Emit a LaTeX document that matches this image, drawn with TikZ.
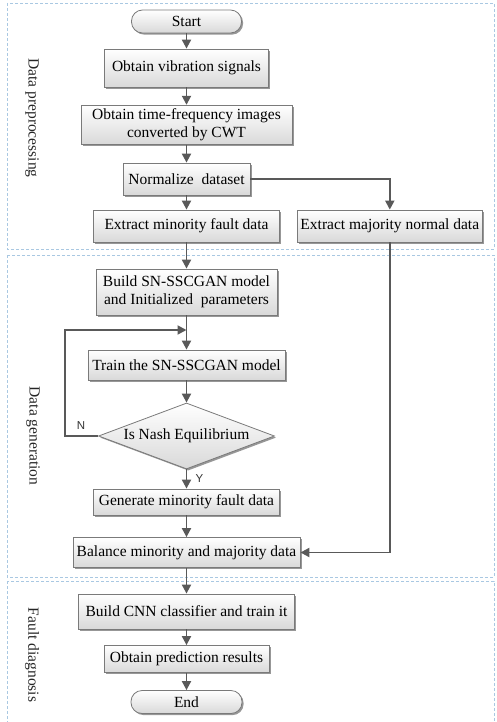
\documentclass[tikz,border=0pt]{standalone}
\usepackage{fontspec}
\setmainfont{Liberation Serif}
\newfontfamily\yesnofont{Liberation Sans}
\usetikzlibrary{arrows.meta,shadows,shapes.geometric}

\definecolor{linegray}{HTML}{595959}
\definecolor{bordergray}{HTML}{7A7A7A}
\definecolor{panelblue}{HTML}{A9C8E2}

\tikzset{
  procbox/.style={rectangle, draw=bordergray, line width=0.8pt,
    top color=white, bottom color=black!15,
    drop shadow={shadow xshift=1.6pt, shadow yshift=-1.6pt, fill=black!45, opacity=0.9},
    inner sep=0pt, align=center, text=black,
    font=\fontsize{15.5}{18.3}\selectfont},
  termbox/.style={procbox, rounded corners=11pt},
  decision/.style={procbox, diamond, aspect=2.67},
  flow/.style={draw=linegray, line width=1.9pt, -{Triangle[length=9pt,width=9pt]}},
  panel/.style={draw=panelblue, line width=0.7pt, dash pattern=on 3pt off 2pt},
  stage/.style={rotate=-90, font=\fontsize{15.5}{18}\selectfont, text=black!85},
  yn/.style={font=\yesnofont\fontsize{11.5}{12}\selectfont, text=black!80}
}

\begin{document}
\begin{tikzpicture}[x=1pt, y=-1pt]
  \clip (0,0) rectangle (496,722);

  % stage frames
  \draw[panel] (7,3) rectangle (494,249);
  \draw[panel] (7,255) rectangle (494,577);
  \draw[panel] (7,581) rectangle (494,740);

  % stage titles
  \node[stage] (stpre) at (32,118) {Data preprocessing};
  \node[stage] (stgen) at (33,436) {Data generation};
  \node[stage] (stdia) at (32,655) {Fault diagnosis};

  % flow nodes
  \node[termbox, minimum width=110pt, minimum height=23pt] (start) at (186.5,21.5) {Start};
  \node[procbox, minimum width=164pt, minimum height=38pt] (vib) at (186.5,68) {Obtain vibration signals};
  \node[procbox, minimum width=211pt, minimum height=39pt] (cwt) at (186.5,124.7) {Obtain time-frequency images\\converted by CWT};
  \node[procbox, minimum width=127pt, minimum height=32pt] (norm) at (186.5,179) {Normalize\ \ dataset};
  \node[procbox, minimum width=186pt, minimum height=32pt] (exmin) at (186.5,226) {Extract minority fault data};
  \node[procbox, minimum width=185pt, minimum height=32pt] (exmaj) at (389.8,226) {Extract majority normal data};
  \node[procbox, minimum width=181pt, minimum height=46pt] (build) at (186.5,292) {Build SN-SSCGAN model\\and Initialized\ \ parameters};
  \node[procbox, minimum width=197pt, minimum height=30pt] (train) at (186.5,365) {Train the SN-SSCGAN model};
  \node[decision, minimum width=176pt, minimum height=66pt] (nash) at (186.5,436) {Is Nash Equilibrium};
  \node[procbox, minimum width=186pt, minimum height=26pt] (gen) at (186.5,502) {Generate minority fault data};
  \node[procbox, minimum width=227pt, minimum height=30pt] (bal) at (186.5,552.5) {Balance minority and majority data};
  \node[procbox, minimum width=216pt, minimum height=35pt] (cnn) at (186.5,611.5) {Build CNN classifier and train it};
  \node[procbox, minimum width=165pt, minimum height=27pt] (pred) at (186.5,659) {Obtain prediction results};
  \node[termbox, minimum width=111pt, minimum height=23pt] (end) at (186.5,702) {End};

  % loop-back corner and joint
  \coordinate (loopcorner) at (65,330);
  \coordinate (loopjoin) at (186.5,330);

  % connectors
  \draw[flow] (start) -- (vib);
  \draw[flow] (vib) -- (cwt);
  \draw[flow] (cwt) -- (norm);
  \draw[flow] (norm) -- (exmin);
  \draw[flow] (norm.east) -| (exmaj.north);
  \draw[flow] (exmin) -- (build);
  \draw[flow] (build) -- (train);
  \draw[flow] (train) -- (nash);
  \draw[flow] (nash.west) -| (loopcorner) -- (loopjoin);
  \draw[flow] (nash) -- (gen);
  \draw[flow] (gen) -- (bal);
  \draw[flow] (exmaj.south) |- (bal.east);
  \draw[flow] (bal) -- (cnn);
  \draw[flow] (cnn) -- (pred);
  \draw[flow] (pred) -- (end);

  % decision labels
  \node[yn] (nlab) at (81,426) {N};
  \node[yn] (ylab) at (199.5,479) {Y};
\end{tikzpicture}
\end{document}
